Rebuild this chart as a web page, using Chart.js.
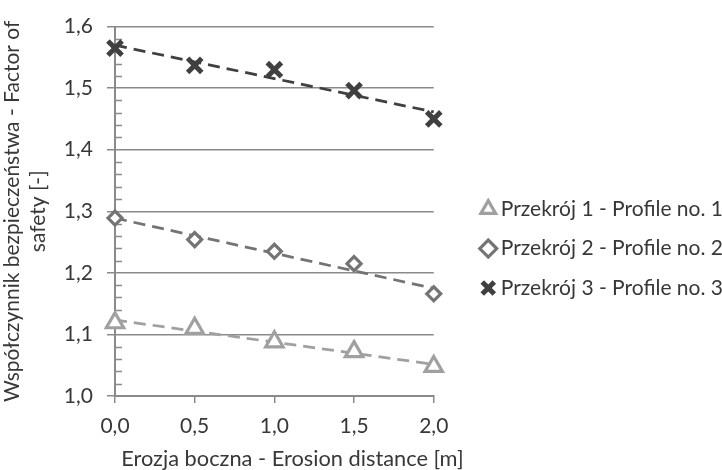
<!DOCTYPE html>
<html>
<head>
<meta charset="utf-8">
<script src="https://cdn.jsdelivr.net/npm/chart.js@4.4.0/dist/chart.umd.min.js"></script>
<style>
  body { margin: 0; background: #fff; }
  canvas { display: block; }
</style>
</head>
<body>
<canvas id="chart" width="722" height="470"></canvas>
<script>
// erosion distance [m]
const distances = [0, 0.5, 1.0, 1.5, 2.0];
// factor of safety, one array per profile
const profile1 = [1.119, 1.110, 1.088, 1.072, 1.048];
const profile2 = [1.289, 1.254, 1.235, 1.215, 1.166];
const profile3 = [1.565, 1.537, 1.530, 1.496, 1.450];
const seriesNames = ["Przekrój 1 - Profile no. 1", "Przekrój 2 - Profile no. 2", "Przekrój 3 - Profile no. 3"];
const xTicks = [0.0, 0.5, 1.0, 1.5, 2.0];
const yTicks = [1.0, 1.1, 1.2, 1.3, 1.4, 1.5, 1.6];
const xTitle = "Erozja boczna - Erosion distance [m]";
const yTitle = ["Współczynnik bezpieczeństwa - Factor of", "safety [-]"];

const colors = ["#a0a0a0", "#747474", "#404040"];
const markers = ["triangle", "rectRot", "crossRot"];
const markerSize = [10, 7, 10];
const markerLine = [3.2, 3.2, 5];
const textColor = "#383838";
const gridColor = "#8a8a8a";
const font = { family: "Lato", size: 21 };

// least squares line through a series (Excel linear trendline)
function trendLine(xs, ys) {
    const n = xs.length;
    const mx = xs.reduce((a, b) => a + b, 0) / n;
    const my = ys.reduce((a, b) => a + b, 0) / n;
    let sxy = 0, sxx = 0;
    xs.forEach((x, i) => {
        sxy += (x - mx) * (ys[i] - my);
        sxx += (x - mx) * (x - mx);
    });
    const k = sxy / sxx;
    const x0 = xs[0], x1 = xs[n - 1];
    return [{ x: x0, y: my + k * (x0 - mx) }, { x: x1, y: my + k * (x1 - mx) }];
}

const series = [profile1, profile2, profile3];

const pointSets = series.map((ys, i) => ({
    label: seriesNames[i],
    data: distances.map((x, j) => ({ x: x, y: ys[j] })),
    showLine: false,
    clip: false,
    pointStyle: markers[i],
    pointRadius: markerSize[i],
    pointHoverRadius: markerSize[i],
    pointBorderWidth: markerLine[i],
    pointBorderColor: colors[i],
    pointBackgroundColor: "#fff",
    borderColor: colors[i],
    backgroundColor: "#fff",
    order: 0,
}));

const trendSets = series.map((ys, i) => ({
    label: "trend " + (i + 1),
    data: trendLine(distances, ys),
    showLine: true,
    clip: false,
    borderColor: colors[i],
    borderWidth: 2.75,
    borderDash: [12, 7],
    pointRadius: 0,
    order: 1,
}));

// small ticks every 0.02 on the right side of the y axis
const minorTicks = {
    id: "minorTicks",
    beforeDatasetsDraw(chart) {
        const y = chart.scales.y;
        const ctx = chart.ctx;
        ctx.save();
        ctx.strokeStyle = gridColor;
        ctx.lineWidth = 1.5;
        for (let i = 1; i < 30; i++) {
            if (i % 5 === 0) continue;
            const py = Math.round(y.getPixelForValue(1.0 + i * 0.02)) + 0.5;
            ctx.beginPath();
            ctx.moveTo(y.right, py);
            ctx.lineTo(y.right + 7, py);
            ctx.stroke();
        }
        ctx.restore();
    },
};

// x axis title: wider than the plot and a bit right of its centre, like the original
const xAxisTitle = {
    id: "xAxisTitle",
    afterDraw(chart) {
        const x = chart.scales.x;
        const ctx = chart.ctx;
        ctx.save();
        ctx.font = "21.8px Lato";
        ctx.fillStyle = textColor;
        ctx.textAlign = "center";
        ctx.textBaseline = "middle";
        ctx.fillText(xTitle, (x.left + x.right) / 2 + 18, x.bottom - 11);
        ctx.restore();
    },
};

const fmt = (v) => Number(v).toFixed(1).replace(".", ",");

new Chart(document.getElementById("chart"), {
    type: "scatter",
    data: { datasets: pointSets.concat(trendSets) },
    plugins: [minorTicks, xAxisTitle],
    options: {
        responsive: false,
        animation: false,
        layout: { padding: { top: 22, right: -11, bottom: 0, left: 0 } },
        plugins: {
            tooltip: { enabled: false },
            legend: {
                position: "right",
                align: "center",
                maxWidth: 320,
                title: { display: true, text: "", font: { size: 1 }, padding: { top: 4, bottom: 0 } },
                labels: {
                    usePointStyle: true,
                    boxWidth: 4,
                    boxHeight: 12,
                    padding: 18.5,
                    color: textColor,
                    font: font,
                    filter: (item) => item.datasetIndex < 3,
                },
            },
        },
        scales: {
            x: {
                type: "linear",
                min: 0,
                max: 2,
                afterBuildTicks: (s) => { s.ticks = xTicks.map((v) => ({ value: v })); },
                afterFit: (s) => { s.height = 74; },
                ticks: { callback: fmt, padding: 11, color: textColor, font: font },
                grid: { drawOnChartArea: false, color: gridColor, lineWidth: 1.5, tickLength: 7 },
                border: { color: gridColor, width: 2 },
                title: { display: false },
            },
            y: {
                type: "linear",
                min: 1.0,
                max: 1.6,
                afterBuildTicks: (s) => { s.ticks = yTicks.map((v) => ({ value: v })); },
                afterFit: (s) => { s.width = 115; },
                ticks: { callback: fmt, padding: 14, color: textColor, font: font },
                grid: { color: gridColor, lineWidth: 1.5, tickLength: 8 },
                border: { color: gridColor, width: 2 },
                title: {
                    display: true,
                    text: yTitle,
                    color: textColor,
                    font: { family: "Lato", size: 21, lineHeight: 1.2 },
                    padding: { top: 0, bottom: 0 },
                },
            },
            gap: {
                type: "linear",
                position: "right",
                display: true,
                afterFit: (s) => { s.width = 34; },
                ticks: { display: false },
                grid: { display: false },
                border: { display: false },
            },
        },
    },
});
</script>
</body>
</html>
